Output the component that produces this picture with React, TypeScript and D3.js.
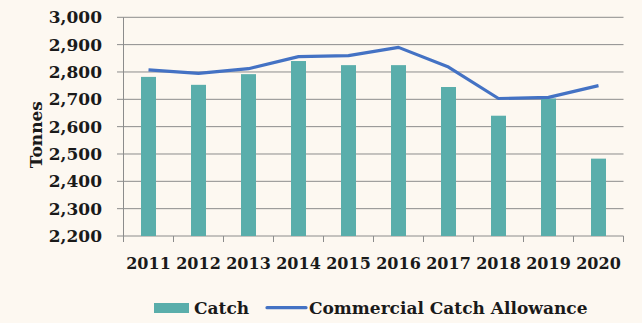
import React from "react";
import * as d3 from "d3";

const years = ["2011","2012","2013","2014","2015","2016","2017","2018","2019","2020"];
const catchValues = [2782, 2753, 2792, 2840, 2825, 2825, 2745, 2640, 2703, 2483];
const allowanceValues = [2808, 2795, 2812, 2856, 2860, 2890, 2818, 2703, 2707, 2750];
const yTicks = [2200, 2300, 2400, 2500, 2600, 2700, 2800, 2900, 3000];

const W = 642, H = 323;
const M = { left: 123.5, right: 623.5, top: 17.3, bottom: 236 };
const FONT = "'DejaVu Serif', serif";

export default function App() {
  const x = d3.scaleBand<string>().domain(years).range([M.left, M.right]).paddingInner(0.7).paddingOuter(0.35);
  const xb = d3.scaleBand<string>().domain(years).range([M.left, M.right]);
  const y = d3.scaleLinear().domain([2200, 3000]).range([M.bottom, M.top]);
  const fmt = d3.format(",");
  const line = d3.line<number>().x((_, i) => (xb(years[i]) as number) + xb.bandwidth() / 2).y(d => y(d));
  return (
    <svg width={W} height={H} style={{ position: "absolute", left: 0, top: 0, background: "#fdf8f1" }}>
      <rect x={0} y={0} width={W} height={H} fill="#fdf8f1" />
      {yTicks.map(t => (
        <g key={t}>
          <line x1={117} x2={M.right} y1={y(t)} y2={y(t)} stroke="#8c8c8c" strokeWidth={1} />
          <text x={102} y={y(t)} dy="0.36em" textAnchor="end" fontFamily={FONT} fontWeight="bold" fontSize={17} fill="#1a1a1a">{fmt(t)}</text>
        </g>
      ))}
      <line x1={M.left} x2={M.left} y1={M.top} y2={M.bottom + 6} stroke="#8c8c8c" strokeWidth={1} />
      {years.map(yr => (
        <line key={yr} x1={xb(yr)} x2={xb(yr)} y1={M.bottom} y2={M.bottom + 6} stroke="#8c8c8c" strokeWidth={1} />
      ))}
      <line x1={M.right} x2={M.right} y1={M.bottom} y2={M.bottom + 6} stroke="#8c8c8c" strokeWidth={1} />
      {years.map((yr, i) => (
        <rect key={yr} x={x(yr)} y={y(catchValues[i])} width={x.bandwidth()} height={M.bottom - y(catchValues[i])} fill="#5aaeab" />
      ))}
      <path d={line(allowanceValues) || ""} fill="none" stroke="#4472c4" strokeWidth={3.2} strokeLinejoin="round" />
      {years.map(yr => (
        <text key={yr} x={(xb(yr) as number) + xb.bandwidth() / 2} y={263.5} dy="0.36em" textAnchor="middle" fontFamily={FONT} fontWeight="bold" fontSize={16} fill="#1a1a1a">{yr}</text>
      ))}
      <text transform={`translate(36,${(M.top + M.bottom) / 2 + 8}) rotate(-90)`} dy="0.36em" textAnchor="middle" fontFamily={FONT} fontWeight="bold" fontSize={17} fill="#1a1a1a">Tonnes</text>
      <rect x={154} y={303} width={35} height={10} fill="#5aaeab" />
      <text x={194} y={308} dy="0.36em" fontFamily={FONT} fontWeight="bold" fontSize={17} fill="#1a1a1a">Catch</text>
      <line x1={267} x2={306} y1={307.7} y2={307.7} stroke="#4472c4" strokeWidth={3.2} strokeLinecap="round" />
      <text x={309} y={308} dy="0.36em" fontFamily={FONT} fontWeight="bold" fontSize={17} fill="#1a1a1a">Commercial Catch Allowance</text>
    </svg>
  );
}
